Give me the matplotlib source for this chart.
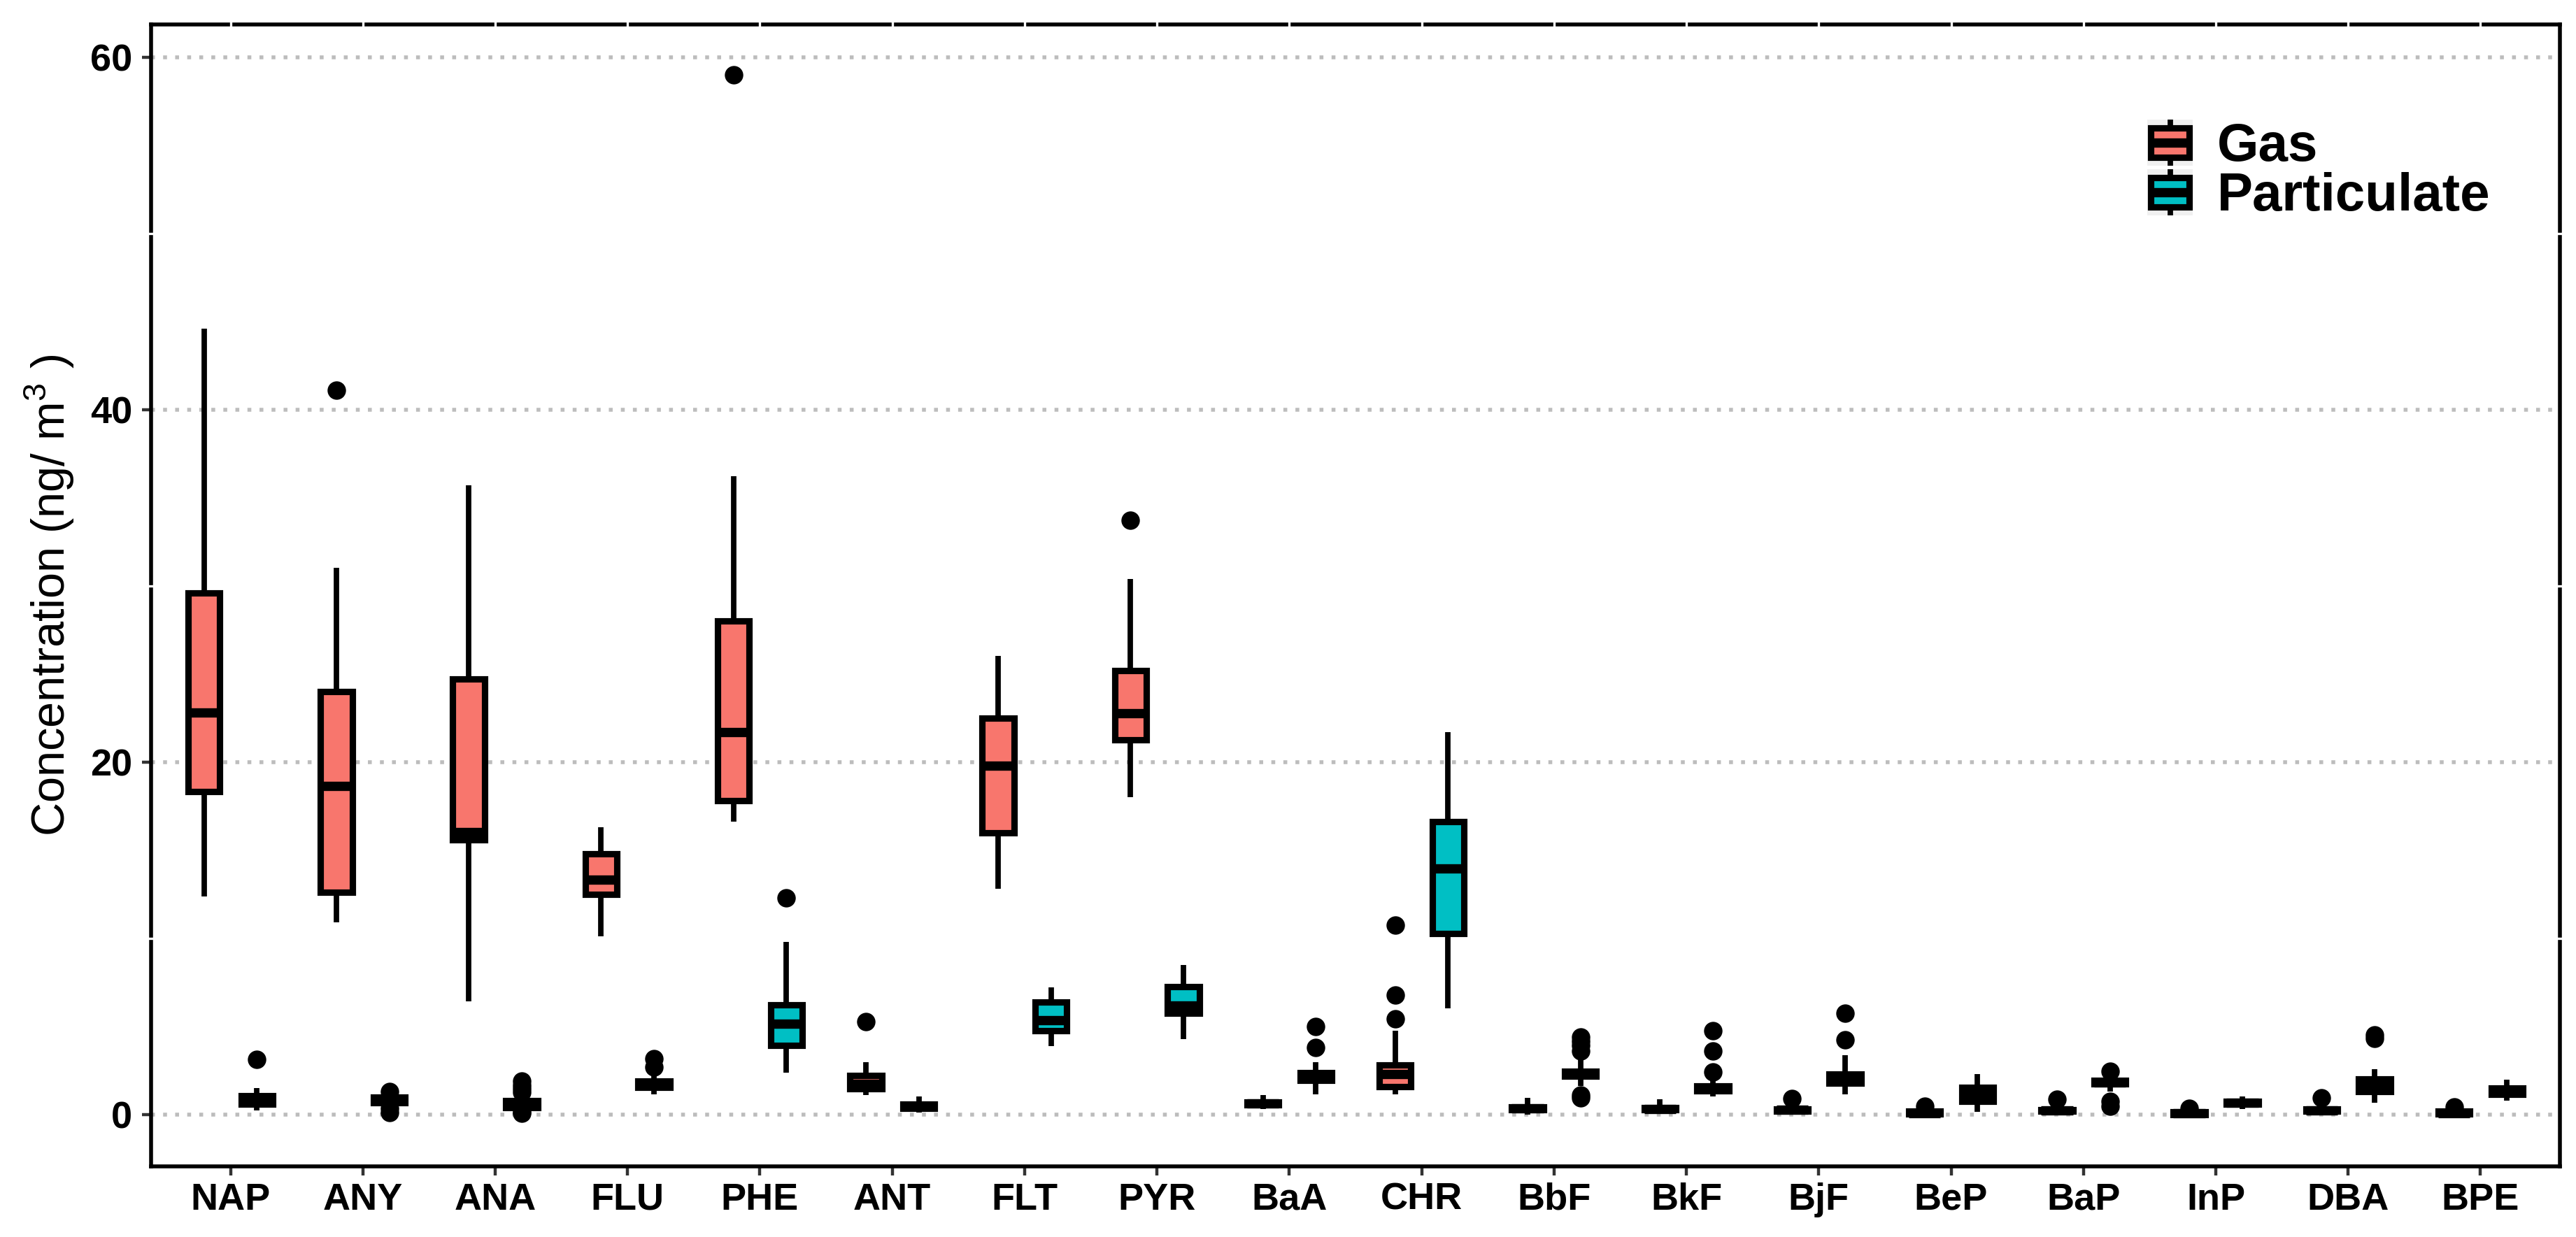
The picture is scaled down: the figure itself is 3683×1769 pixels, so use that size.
import numpy as np
import matplotlib
matplotlib.use("Agg")
import matplotlib.pyplot as plt
from matplotlib.legend_handler import HandlerBase
from matplotlib.patches import Rectangle
from matplotlib.lines import Line2D

plt.rcParams['font.family'] = ['Liberation Sans', 'DejaVu Sans']
plt.rcParams['mathtext.fontset'] = 'custom'
plt.rcParams['mathtext.rm'] = 'Liberation Sans'

# ==========================================
# DATA
# ==========================================
categories = ['NAP', 'ANY', 'ANA', 'FLU', 'PHE', 'ANT', 'FLT', 'PYR', 'BaA',
              'CHR', 'BbF', 'BkF', 'BjF', 'BeP', 'BaP', 'InP', 'DBA', 'BPE']

# Gas phase: whisker low, Q1, median, Q3, whisker high, outliers
gas_lo  = [12.35, 10.9, 6.4, 10.1, 16.6, 1.1, 12.8, 18.0, 0.3, 1.15, 0.0, 0.02, 0.0, 0.0, 0.0, 0.0, 0.0, 0.0]
gas_q1  = [18.3, 12.6, 15.6, 12.5, 17.8, 1.46, 15.96, 21.26, 0.54, 1.59, 0.27, 0.25, 0.2, 0.02, 0.17, 0.0, 0.17, 0.02]
gas_med = [22.8, 18.65, 16.0, 13.3, 21.7, 1.75, 19.8, 22.75, 0.62, 2.27, 0.35, 0.32, 0.26, 0.08, 0.22, 0.07, 0.24, 0.08]
gas_q3  = [29.6, 24.0, 24.7, 14.8, 28.0, 2.22, 22.5, 25.2, 0.71, 2.82, 0.44, 0.37, 0.31, 0.18, 0.27, 0.15, 0.31, 0.18]
gas_hi  = [44.6, 31.0, 35.7, 16.3, 36.2, 2.96, 26.0, 30.4, 1.11, 4.76, 0.92, 0.85, 0.6, 0.3, 0.55, 0.22, 0.65, 0.3]
gas_out = [[], [41.1], [], [], [59.0], [5.28], [], [33.7], [],
           [5.42, 6.76, 10.73], [], [], [0.9], [0.45], [0.85], [0.35], [0.95], [0.42]]

# Particulate phase
part_lo  = [0.22, 0.5, 0.25, 1.15, 2.38, 0.1, 3.86, 4.28, 1.15, 6.0, 1.6, 1.0, 1.15, 0.16, 1.3, 0.32, 0.66, 0.79]
part_q1  = [0.6, 0.68, 0.4, 1.53, 3.93, 0.36, 4.76, 5.75, 1.95, 10.25, 2.18, 1.33, 1.77, 0.73, 1.73, 0.6, 1.28, 1.13]
part_med = [0.8, 0.85, 0.6, 1.7, 5.15, 0.45, 5.35, 6.17, 2.15, 13.97, 2.3, 1.48, 1.94, 1.11, 1.82, 0.67, 1.7, 1.3]
part_q3  = [1.06, 0.98, 0.78, 1.89, 6.21, 0.57, 6.39, 7.24, 2.38, 16.62, 2.46, 1.63, 2.29, 1.54, 1.92, 0.74, 2.0, 1.5]
part_hi  = [1.5, 1.15, 1.0, 2.3, 9.8, 1.0, 7.19, 8.48, 2.96, 21.7, 3.1, 2.0, 3.36, 2.3, 2.1, 1.0, 2.56, 1.98]
part_out = [[3.13], [1.3, 0.35, 0.1], [1.9, 1.65, 1.45, 1.25, 0.15, 0.05], [3.15, 2.7], [12.3], [], [], [],
            [3.79, 4.98], [], [4.4, 4.15, 3.9, 3.6, 1.1, 0.95], [2.4, 3.6, 4.76], [4.25, 5.73],
            [], [2.45, 0.75, 0.45], [], [4.3, 4.5], []]

GAS_COLOR = '#F8766D'
PART_COLOR = '#00BFC4'


def make_stats(lo, q1, med, q3, hi, out):
    return [dict(whislo=a, q1=b, med=c, q3=d, whishi=e, fliers=f)
            for a, b, c, d, e, f in zip(lo, q1, med, q3, hi, out)]


class BoxKey(HandlerBase):
    # draws a ggplot-like boxplot glyph as legend key
    def create_artists(self, legend, orig_handle, xdescent, ydescent,
                       width, height, fontsize, trans):
        x0, y0 = -xdescent, -ydescent
        cx = x0 + width / 2
        bg = Rectangle((x0, y0), width, height, facecolor='#F0F0F0',
                       edgecolor='none', transform=trans)
        wl = Line2D([cx, cx], [y0, y0 + height], color='black', lw=2.8,
                    transform=trans, solid_capstyle='butt')
        box = Rectangle((x0 + width * 0.08, y0 + height * 0.18), width * 0.84, height * 0.64,
                        facecolor=orig_handle.get_facecolor(), edgecolor='black',
                        lw=3.3, transform=trans)
        med = Line2D([x0 + width * 0.08, x0 + width * 0.92], [y0 + height / 2] * 2,
                     color='black', lw=4.8, transform=trans, solid_capstyle='butt')
        return [bg, wl, box, med]


# ==========================================
# PLOT
# ==========================================
W, H, DPI = 3683, 1769, 200
fig = plt.figure(figsize=(W / DPI, H / DPI), dpi=DPI)
ax = fig.add_axes([216 / W, (H - 1668) / H, (3660 - 216) / W, (1668 - 35) / H])

x = np.arange(len(categories))
common = dict(widths=0.24, patch_artist=True, showcaps=False,
              whiskerprops=dict(color='black', linewidth=2.8, solid_capstyle='butt'),
              medianprops=dict(color='black', linewidth=4.8, solid_capstyle='butt'),
              flierprops=dict(marker='o', markerfacecolor='black', markeredgecolor='black',
                              markersize=8.5, linestyle='none'),
              zorder=3)

ax.bxp(make_stats(gas_lo, gas_q1, gas_med, gas_q3, gas_hi, gas_out), positions=x - 0.2,
       boxprops=dict(facecolor=GAS_COLOR, edgecolor='black', linewidth=3.3), **common)
ax.bxp(make_stats(part_lo, part_q1, part_med, part_q3, part_hi, part_out), positions=x + 0.2,
       boxprops=dict(facecolor=PART_COLOR, edgecolor='black', linewidth=3.3), **common)

ax.set_xlim(-0.6, len(categories) - 0.4)
ax.set_ylim(-2.95, 61.85)
ax.set_xticks(x)
ax.set_xticklabels(categories)
ax.set_yticks([0, 20, 40, 60])

ax.yaxis.grid(True, color='#BDBDBD', linewidth=2.0, linestyle=(0, (1, 2.1)))
ax.xaxis.grid(False)
ax.set_axisbelow(True)

ax.tick_params(axis='both', length=4.7, width=1.6, color='#333333', labelsize=19.5, labelcolor='black')
ax.tick_params(axis='x', pad=3.5)
ax.tick_params(axis='y', pad=5)
for lab in ax.get_xticklabels() + ax.get_yticklabels():
    lab.set_fontweight('bold')

for sp in ax.spines.values():
    sp.set_linewidth(2.0)
    sp.set_color('black')

# small white notches on the panel border (as in the source image)
for xi in x:
    ax.plot([xi, xi], [0.99, 1.01], transform=ax.get_xaxis_transform(), color='white',
            lw=1.2, clip_on=False, zorder=10)
for yv in [10, 30, 50]:
    for xa in (0.0, 1.0):
        ax.plot([xa - 0.003, xa + 0.003], [yv, yv], transform=ax.get_yaxis_transform(),
                color='white', lw=1.2, clip_on=False, zorder=10)

ax.set_ylabel('Concentration (ng/ m$^{3}$ )', fontsize=24)
ax.yaxis.set_label_coords(-0.031, 0.5)

h_gas = Rectangle((0, 0), 1, 1, facecolor=GAS_COLOR)
h_part = Rectangle((0, 0), 1, 1, facecolor=PART_COLOR)
ax.legend([h_gas, h_part], ['Gas', 'Particulate'],
          handler_map={h_gas: BoxKey(), h_part: BoxKey()},
          loc='center left', bbox_to_anchor=(0.8287, 0.872), frameon=False,
          prop=dict(weight='bold', size=27.5), handlelength=0.85, handleheight=0.95,
          labelspacing=-0.06, handletextpad=0.46, borderpad=0, borderaxespad=0)

fig.savefig('out.png', dpi=DPI)
